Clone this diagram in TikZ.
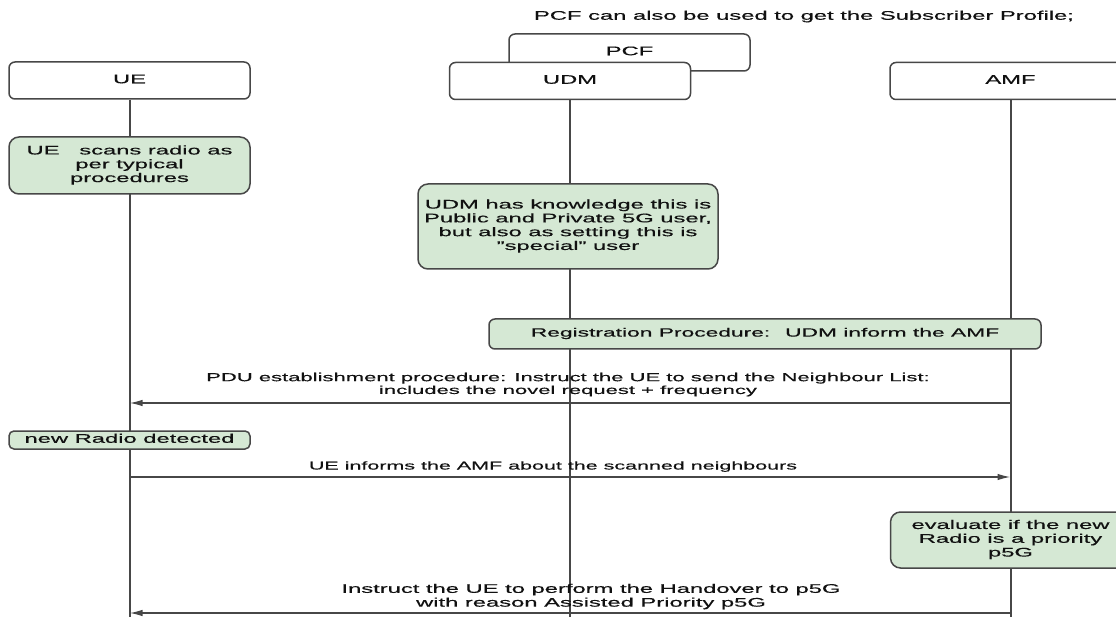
\documentclass[tikz,border=0pt]{standalone}
\usepackage{fontspec}
\setmainfont{Liberation Sans}[FakeBold=0.35]
\usepackage{graphicx}
\usetikzlibrary{arrows.meta}

\definecolor{notefill}{HTML}{D5E8D4}
\definecolor{edge}{HTML}{474747}
\definecolor{ink}{HTML}{111111}

% wide, centred multi-line text
\newcommand\widetext[1]{\scalebox{1.9}[1]{\begin{tabular}{@{}c@{}}#1\end{tabular}}}

\tikzset{
  txt/.style={text=ink, inner sep=0pt, font=\fontsize{12.5}{13.8}\selectfont},
  small/.style={txt, font=\fontsize{11.6}{12.8}\selectfont},
  smaller/.style={txt, font=\fontsize{11.3}{12.5}\selectfont},
  actor/.style={txt, draw=edge, line width=1.5pt, rounded corners=6pt, fill=white,
                minimum width=241pt, minimum height=37pt},
  note/.style={txt, draw=edge, line width=1.5pt, rounded corners=10pt, fill=notefill},
  lifeline/.style={draw=edge, line width=2pt},
  msg/.style={draw=edge, line width=1.5pt, -{Latex[length=13pt,width=6.5pt]}},
}

\begin{document}
\begin{tikzpicture}[x=1pt, y=-1pt]
  \useasboundingbox (0,0) rectangle (1116,617);
  \clip (0,0) rectangle (1116,617);

  % lifeline ends and message anchors
  \coordinate (ue-end)  at (129.5,617);
  \coordinate (udm-end) at (570,617);
  \coordinate (amf-end) at (1010.5,617);
  \coordinate (ue-m1)  at (129.5,403);
  \coordinate (amf-m1) at (1010.5,403);
  \coordinate (ue-m2)  at (129.5,477);
  \coordinate (amf-m2) at (1010.5,477);
  \coordinate (ue-m3)  at (129.5,613);
  \coordinate (amf-m3) at (1010.5,613);

  % participants
  \node[actor] (pcf) at (629.5,52.5) {\widetext{PCF}};
  \node[actor] (ue)  at (129.5,80.5) {\widetext{UE}};
  \node[actor] (udm) at (570,81)     {\widetext{UDM}};
  \node[actor] (amf) at (1010.5,81)  {\widetext{AMF}};

  % lifelines
  \draw[lifeline] (ue.south)  -- (ue-end);
  \draw[lifeline] (udm.south) -- (udm-end);
  \draw[lifeline] (amf.south) -- (amf-end);

  \node[txt] (remark) at (804,17) {\widetext{PCF can also be used to get the Subscriber Profile;}};

  % notes on the lifelines
  \node[note, minimum width=241pt, minimum height=57pt] (scan) at (129.5,165.5)
    {\widetext{UE \ \ scans radio as\\per typical\\procedures}};
  \node[note, minimum width=300pt, minimum height=85pt] (know) at (568,226.5)
    {\widetext{UDM has knowledge this is\\Public and Private 5G user,\\but also as setting this is\\"special" user}};
  \node[note, rounded corners=6pt, minimum width=552pt, minimum height=30pt,
        font=\fontsize{12}{13}\selectfont] (reg) at (765,334)
    {\widetext{Registration Procedure: \ UDM inform the AMF}};
  \node[note, rounded corners=5pt, minimum width=241pt, minimum height=18pt] (newradio) at (129.5,440)
    {\widetext{new Radio detected}};
  \node[note, minimum width=240pt, minimum height=56pt] (eval) at (1010.5,540)
    {\widetext{evaluate if the new\\Radio is a priority\\p5G}};

  % messages
  \draw[msg] (amf-m1) -- (ue-m1);
  \node[small] (m1) at (568,385) {\widetext{PDU establishment procedure: Instruct the UE to send the Neighbour List:\\includes the novel request + frequency}};

  \draw[msg] (ue-m2) -- (amf-m2);
  \node[smaller] (m2) at (553,467) {\widetext{UE informs the AMF about the scanned neighbours}};

  \draw[msg] (amf-m3) -- (ue-m3);
  \node[txt] (m3) at (591,597) {\widetext{Instruct the UE to perform the Handover to p5G\\with reason Assisted Priority p5G}};
\end{tikzpicture}
\end{document}
